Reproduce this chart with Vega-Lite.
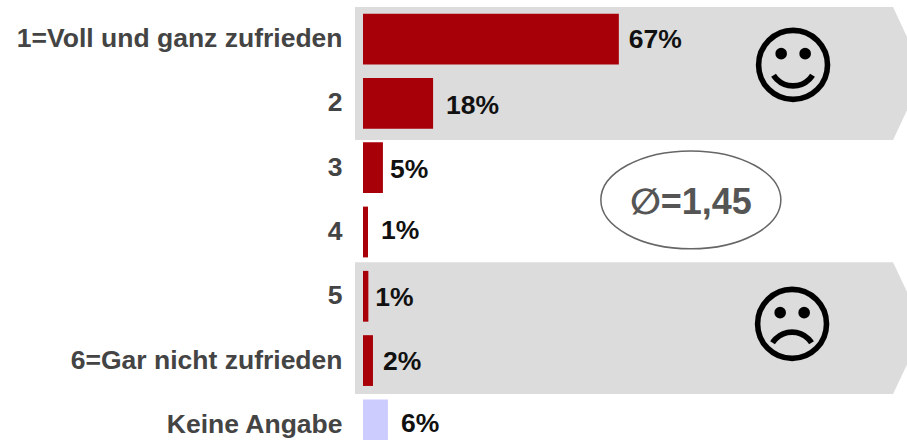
{"$schema":"https://vega.github.io/schema/vega-lite/v6.json","width":552,"height":433,"autosize":{"type":"none"},"padding":{"left":355,"top":7,"right":0,"bottom":0},"background":"white","view":{"stroke":null},"config":{"font":"Liberation Sans"},
"datasets":{
"rows":[{"antwort":"1=Voll und ganz zufrieden","anteil":66.8,"label":"67%","gruppe":"Bewertung"},{"antwort":"2","anteil":18.3,"label":"18%","gruppe":"Bewertung"},{"antwort":"3","anteil":5.2,"label":"5%","gruppe":"Bewertung"},{"antwort":"4","anteil":1.3,"label":"1%","gruppe":"Bewertung"},{"antwort":"5","anteil":1.4,"label":"1%","gruppe":"Bewertung"},{"antwort":"6=Gar nicht zufrieden","anteil":2.6,"label":"2%","gruppe":"Bewertung"},{"antwort":"Keine Angabe","anteil":6.5,"label":"6%","gruppe":"Keine Angabe"}],
"zonen":[{"zone":"positiv","zeile":0,"ende":138.4,"start":-2.09},{"zone":"positiv","zeile":1.035,"ende":146.5,"start":-2.09},{"zone":"positiv","zeile":2.07,"ende":138.4,"start":-2.09},{"zone":"negativ","zeile":3.97,"ende":138.4,"start":-2.09},{"zone":"negativ","zeile":4.995,"ende":146.5,"start":-2.09},{"zone":"negativ","zeile":6.02,"ende":138.4,"start":-2.09}]},
"resolve":{"scale":{"y":"independent"}},
"layer":[
{"data":{"name":"zonen"},"mark":{"type":"area","orient":"horizontal","color":"#dcdcdc","clip":false},"encoding":{"x":{"field":"ende","type":"quantitative","scale":{"domain":[-2.09,142.04],"nice":false,"zero":false},"axis":null},"x2":{"field":"start"},"y":{"field":"zeile","type":"quantitative","scale":{"domain":[0,7],"range":[0,450],"nice":false},"axis":null},"detail":{"field":"zone"}}},
{"data":{"name":"rows"},"mark":{"type":"bar"},"encoding":{"x":{"field":"anteil","type":"quantitative","stack":null,"scale":{"domain":[-2.09,142.04],"nice":false,"zero":false},"axis":null},"y":{"field":"antwort","type":"nominal","sort":null,"title":null,"scale":{"range":[0,450],"paddingInner":0.21,"paddingOuter":0.105},"axis":{"domain":false,"ticks":false,"labelPadding":13,"labelFont":"Liberation Sans","labelFontSize":26.5,"labelFontWeight":"bold","labelColor":"#444444","labelLimit":400,"grid":false}},"color":{"field":"gruppe","type":"nominal","scale":{"domain":["Bewertung","Keine Angabe"],"range":["#a80008","#ccccff"]},"legend":null}}},
{"data":{"name":"rows"},"transform":[{"filter":"datum.antwort==='1=Voll und ganz zufrieden'||datum.antwort==='6=Gar nicht zufrieden'"}],"mark":{"type":"text","align":"left","baseline":"middle","dx":10,"dy":1,"font":"Liberation Sans","fontSize":26.5,"fontWeight":"bold","color":"#111111"},"encoding":{"x":{"field":"anteil","type":"quantitative","scale":{"domain":[-2.09,142.04],"nice":false,"zero":false},"axis":null},"y":{"field":"antwort","type":"nominal","sort":{"field":"anteil"},"scale":{"domain":["1=Voll und ganz zufrieden","2","3","4","5","6=Gar nicht zufrieden","Keine Angabe"],"range":[0,450],"paddingInner":0.21,"paddingOuter":0.105},"axis":null},"text":{"field":"label"}}},
{"data":{"name":"rows"},"transform":[{"filter":"datum.antwort==='2'"}],"mark":{"type":"text","align":"left","baseline":"middle","dx":13,"dy":3,"font":"Liberation Sans","fontSize":26.5,"fontWeight":"bold","color":"#111111"},"encoding":{"x":{"field":"anteil","type":"quantitative","scale":{"domain":[-2.09,142.04],"nice":false,"zero":false},"axis":null},"y":{"field":"antwort","type":"nominal","scale":{"domain":["1=Voll und ganz zufrieden","2","3","4","5","6=Gar nicht zufrieden","Keine Angabe"],"range":[0,450],"paddingInner":0.21,"paddingOuter":0.105},"axis":null},"text":{"field":"label"}}},
{"data":{"name":"rows"},"transform":[{"filter":"datum.antwort==='3'||datum.antwort==='5'"}],"mark":{"type":"text","align":"left","baseline":"middle","dx":7,"dy":2,"font":"Liberation Sans","fontSize":26.5,"fontWeight":"bold","color":"#111111"},"encoding":{"x":{"field":"anteil","type":"quantitative","scale":{"domain":[-2.09,142.04],"nice":false,"zero":false},"axis":null},"y":{"field":"antwort","type":"nominal","scale":{"domain":["1=Voll und ganz zufrieden","2","3","4","5","6=Gar nicht zufrieden","Keine Angabe"],"range":[0,450],"paddingInner":0.21,"paddingOuter":0.105},"axis":null},"text":{"field":"label"}}},
{"data":{"name":"rows"},"transform":[{"filter":"datum.antwort==='4'||datum.antwort==='Keine Angabe'"}],"mark":{"type":"text","align":"left","baseline":"middle","dx":13,"dy":-1,"font":"Liberation Sans","fontSize":26.5,"fontWeight":"bold","color":"#111111"},"encoding":{"x":{"field":"anteil","type":"quantitative","scale":{"domain":[-2.09,142.04],"nice":false,"zero":false},"axis":null},"y":{"field":"antwort","type":"nominal","scale":{"domain":["1=Voll und ganz zufrieden","2","3","4","5","6=Gar nicht zufrieden","Keine Angabe"],"range":[0,450],"paddingInner":0.21,"paddingOuter":0.105},"axis":null},"text":{"field":"label"}}},
{"data":{"values":[{"x":85.6,"y":3.0}]},"mark":{"type":"point","shape":"M -1 0 A 1 0.544 0 1 1 1 0 A 1 0.544 0 1 1 -1 0 Z","size":32400,"filled":false,"stroke":"#666666","strokeWidth":1.5,"opacity":1},"encoding":{"x":{"field":"x","type":"quantitative","scale":{"domain":[-2.09,142.04],"nice":false,"zero":false},"axis":null},"y":{"field":"y","type":"quantitative","scale":{"domain":[0,7],"range":[0,450],"nice":false},"axis":null}}},
{"data":{"values":[{"x":85.6,"y":3.05,"t":"∅=1,45"}]},"mark":{"type":"text","align":"center","baseline":"middle","font":"Liberation Sans, DejaVu Sans","fontSize":36,"fontWeight":"bold","color":"#555555"},"encoding":{"x":{"field":"x","type":"quantitative","scale":{"domain":[-2.09,142.04],"nice":false,"zero":false},"axis":null},"y":{"field":"y","type":"quantitative","scale":{"domain":[0,7],"range":[0,450],"nice":false},"axis":null},"text":{"field":"t"}}},
{"data":{"values":[{"x":112.3,"y":0.98,"t":"☺"},{"x":112,"y":5.01,"t":"☹"}]},"mark":{"type":"text","align":"center","baseline":"middle","font":"DejaVu Sans","fontSize":85,"color":"#000000"},"encoding":{"x":{"field":"x","type":"quantitative","scale":{"domain":[-2.09,142.04],"nice":false,"zero":false},"axis":null},"y":{"field":"y","type":"quantitative","scale":{"domain":[0,7],"range":[0,450],"nice":false},"axis":null},"text":{"field":"t"}}}
]}
